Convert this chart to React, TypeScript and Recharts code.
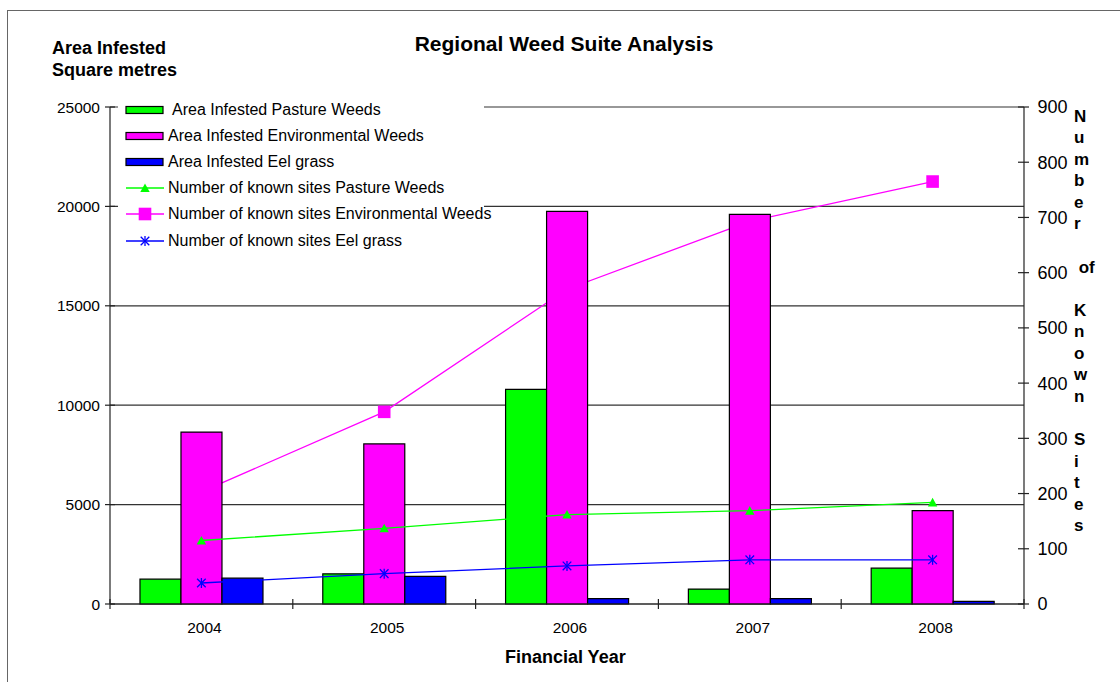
import React from 'react';
import { ComposedChart, Bar, Line, XAxis, YAxis, CartesianGrid, Legend } from 'recharts';

const years = ['2004', '2005', '2006', '2007', '2008'];
const areaPasture = [1250, 1520, 10800, 750, 1800];
const areaEnvironmental = [8650, 8050, 19750, 19600, 4700];
const areaEelGrass = [1300, 1390, 270, 270, 130];
const sitesPasture = [115, 137, 162, 169, 184];
const sitesEnvironmental = [203, 348, 570, 693, 765];
const sitesEelGrass = [38, 55, 69, 80, 80];

const areaTicks = [0, 5000, 10000, 15000, 20000, 25000];
const siteTicks = [0, 100, 200, 300, 400, 500, 600, 700, 800, 900];

const seriesNames = {
  areaPasture: 'Area Infested Pasture Weeds',
  areaEnvironmental: 'Area Infested Environmental Weeds',
  areaEelGrass: 'Area Infested Eel grass',
  sitesPasture: 'Number of known sites Pasture Weeds',
  sitesEnvironmental: 'Number of known sites Environmental Weeds',
  sitesEelGrass: 'Number of known sites Eel grass',
};

const rightTitle = ['N', 'u', 'm', 'b', 'e', 'r', '', ' of', '', 'K', 'n', 'o', 'w', 'n', '', 'S', 'i', 't', 'e', 's'];

const data = years.map((year, i) => ({
  year,
  areaPasture: areaPasture[i],
  areaEnvironmental: areaEnvironmental[i],
  areaEelGrass: areaEelGrass[i],
  sitesPasture: sitesPasture[i],
  sitesEnvironmental: sitesEnvironmental[i],
  sitesEelGrass: sitesEelGrass[i],
}));

const GREEN = '#00FF00';
const MAGENTA = '#FF00FF';
const BLUE = '#0000FF';
const AXIS = '#222';
const FONT = 'Arial, "Liberation Sans", sans-serif';

const W = 1120;
const H = 682;
const PLOT_LEFT = 110;
const PLOT_RIGHT = 1024;
const BAND = (PLOT_RIGHT - PLOT_LEFT) / years.length;

// markers
const triangle = (color: string) => (props: any) => {
  const { cx, cy, index } = props;
  return (
    <path
      key={`tri-${index}`}
      d={`M${cx},${cy - 4.6} L${cx + 4.7},${cy + 4} L${cx - 4.7},${cy + 4} Z`}
      fill={color}
    />
  );
};

const square = (color: string) => (props: any) => {
  const { cx, cy, index } = props;
  return <rect key={`sq-${index}`} x={cx - 6.3} y={cy - 6.3} width={12.6} height={12.6} fill={color} />;
};

const star = (color: string) => (props: any) => {
  const { cx, cy, index } = props;
  return (
    <g key={`st-${index}`} stroke={color} strokeWidth={1.3}>
      <line x1={cx - 4.3} y1={cy - 4.3} x2={cx + 4.3} y2={cy + 4.3} />
      <line x1={cx - 4.3} y1={cy + 4.3} x2={cx + 4.3} y2={cy - 4.3} />
      <line x1={cx} y1={cy - 5} x2={cx} y2={cy + 5} />
    </g>
  );
};

function LeftTick({ x, y, payload }: any) {
  return (
    <g>
      <line x1={x - 5} x2={x + 5} y1={y} y2={y} stroke={AXIS} strokeWidth={1.2} />
      <text x={x - 10} y={y} dy="0.36em" textAnchor="end" fontSize={15.5} fontFamily={FONT} fill="#000">
        {payload.value}
      </text>
    </g>
  );
}

function RightTick({ x, y, payload }: any) {
  return (
    <g>
      <line x1={x - 6} x2={x + 5} y1={y} y2={y} stroke={AXIS} strokeWidth={1.2} />
      <text x={x + 13.5} y={y} dy="0.36em" textAnchor="start" fontSize={18} fontFamily={FONT} fill="#000">
        {payload.value}
      </text>
    </g>
  );
}

function YearTick({ x, y, payload, index }: any) {
  const last = index === years.length - 1;
  return (
    <g>
      <line x1={x - BAND / 2} x2={x - BAND / 2} y1={y - 5} y2={y + 5} stroke={AXIS} strokeWidth={1.2} />
      {last && <line x1={x + BAND / 2} x2={x + BAND / 2} y1={y - 5} y2={y + 5} stroke={AXIS} strokeWidth={1.2} />}
      <text x={x + 3} y={y + 28.5} textAnchor="middle" fontSize={15.5} fontFamily={FONT} fill="#000">
        {payload.value}
      </text>
    </g>
  );
}

const legendRows = [
  { key: 'areaPasture', kind: 'bar', color: GREEN, shift: 4 },
  { key: 'areaEnvironmental', kind: 'bar', color: MAGENTA, shift: 0 },
  { key: 'areaEelGrass', kind: 'bar', color: BLUE, shift: 0 },
  { key: 'sitesPasture', kind: 'triangle', color: GREEN, shift: 0 },
  { key: 'sitesEnvironmental', kind: 'square', color: MAGENTA, shift: 0 },
  { key: 'sitesEelGrass', kind: 'star', color: BLUE, shift: 0 },
];

function LegendBox() {
  return (
    <div style={{ position: 'relative', width: 366, height: 154, background: '#fff', fontFamily: FONT }}>
      {legendRows.map((row, i) => {
        const cy = 12 + 26.1 * i;
        const mark =
          row.kind === 'bar' ? (
            <rect x={8} y={3.5} width={37} height={7} fill={row.color} stroke="#000" strokeWidth={1.2} />
          ) : (
            <g>
              <line x1={8} x2={46} y1={7} y2={7} stroke={row.color} strokeWidth={1.3} />
              {row.kind === 'triangle' && triangle(row.color)({ cx: 27, cy: 7, index: 0 })}
              {row.kind === 'square' && square(row.color)({ cx: 27, cy: 7, index: 0 })}
              {row.kind === 'star' && star(row.color)({ cx: 27, cy: 7, index: 0 })}
            </g>
          );
        return (
          <div key={row.key} style={{ position: 'absolute', left: 0, top: cy - 10, height: 20, width: 400 }}>
            <svg width={50} height={14} style={{ position: 'absolute', left: 0, top: 3 }}>
              {mark}
            </svg>
            <span
              style={{
                position: 'absolute',
                left: 50 + row.shift,
                top: 0,
                lineHeight: '20px',
                fontSize: 16,
                color: '#000',
                whiteSpace: 'nowrap',
              }}
            >
              {seriesNames[row.key as keyof typeof seriesNames]}
            </span>
          </div>
        );
      })}
    </div>
  );
}

export default function App() {
  return (
    <div style={{ position: 'absolute', left: 0, top: 0, width: W, height: H, overflow: 'hidden', background: '#fff' }}>
      <div
        style={{
          position: 'absolute',
          left: 7,
          top: 10,
          width: 1300,
          height: 900,
          border: '1.5px solid #666',
          boxSizing: 'border-box',
        }}
      />
      <ComposedChart
        width={W}
        height={H}
        data={data}
        margin={{ top: 107, right: 36, bottom: 48, left: 50 }}
        barCategoryGap="16.4%"
        barGap={0}
        style={{ position: 'absolute', left: 0, top: 0 }}
      >
        <CartesianGrid yAxisId="left" vertical={false} stroke="#333" strokeWidth={1.2} />
        <XAxis
          dataKey="year"
          axisLine={{ stroke: AXIS, strokeWidth: 1.2 }}
          tickLine={false}
          tickSize={0}
          tickMargin={0}
          height={30}
          tick={<YearTick />}
          interval={0}
        />
        <YAxis
          yAxisId="left"
          domain={[0, 25000]}
          ticks={areaTicks}
          axisLine={{ stroke: AXIS, strokeWidth: 1.2 }}
          tickLine={false}
          tickSize={0}
          tickMargin={0}
          width={60}
          tick={<LeftTick />}
          interval={0}
        />
        <YAxis
          yAxisId="right"
          orientation="right"
          domain={[0, 900]}
          ticks={siteTicks}
          axisLine={{ stroke: AXIS, strokeWidth: 1.2 }}
          tickLine={false}
          tickSize={0}
          tickMargin={0}
          width={60}
          tick={<RightTick />}
          interval={0}
        />
        <Legend
          layout="vertical"
          align="center"
          verticalAlign="middle"
          wrapperStyle={{ left: 118, top: 98, width: 366, height: 154 }}
          content={() => <LegendBox />}
        />
        {/* environmental sites line sits underneath the bars */}
        <Line
          yAxisId="right"
          dataKey="sitesEnvironmental"
          name={seriesNames.sitesEnvironmental}
          type="linear"
          stroke={MAGENTA}
          strokeWidth={1.3}
          dot={square(MAGENTA)}
          activeDot={false}
          zIndex={250}
          isAnimationActive={false}
        />
        <Bar yAxisId="left" dataKey="areaPasture" name={seriesNames.areaPasture} fill={GREEN} stroke="#000" strokeWidth={1.2} isAnimationActive={false} />
        <Bar yAxisId="left" dataKey="areaEnvironmental" name={seriesNames.areaEnvironmental} fill={MAGENTA} stroke="#000" strokeWidth={1.2} isAnimationActive={false} />
        <Bar yAxisId="left" dataKey="areaEelGrass" name={seriesNames.areaEelGrass} fill={BLUE} stroke="#000" strokeWidth={1.2} isAnimationActive={false} />
        <Line
          yAxisId="right"
          dataKey="sitesPasture"
          name={seriesNames.sitesPasture}
          type="linear"
          stroke={GREEN}
          strokeWidth={1.3}
          dot={triangle(GREEN)}
          activeDot={false}
          isAnimationActive={false}
        />
        <Line
          yAxisId="right"
          dataKey="sitesEelGrass"
          name={seriesNames.sitesEelGrass}
          type="linear"
          stroke={BLUE}
          strokeWidth={1.3}
          dot={star(BLUE)}
          activeDot={false}
          isAnimationActive={false}
        />
      </ComposedChart>
      <svg
        width={W}
        height={H}
        style={{ position: 'absolute', left: 0, top: 0, pointerEvents: 'none' }}
        fontFamily={FONT}
        fontWeight="bold"
        fill="#000"
      >
        <text x={564} y={50.7} textAnchor="middle" fontSize={21}>
          Regional Weed Suite Analysis
        </text>
        <text x={52} y={54} fontSize={18}>
          Area Infested
        </text>
        <text x={52} y={75.6} fontSize={18}>
          Square metres
        </text>
        <text x={565.3} y={663.3} textAnchor="middle" fontSize={18}>
          Financial Year
        </text>
        {rightTitle.map((s, i) => (
          <text key={i} x={1074} y={121.7 + 21.55 * i} fontSize={17} style={{ whiteSpace: 'pre' }}>
            {s}
          </text>
        ))}
      </svg>
    </div>
  );
}
